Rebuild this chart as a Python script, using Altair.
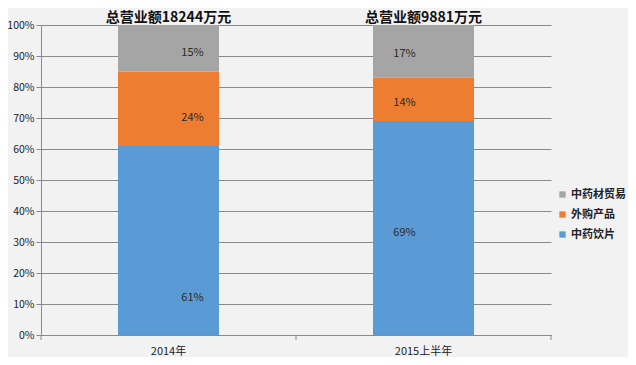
import altair as alt
import pandas as pd

years = ["2014年", "2015上半年"]
series = ["中药饮片", "外购产品", "中药材贸易"]
values_2014 = [61, 24, 15]
values_2015 = [69, 14, 17]
# where Excel placed each data label (in % units)
label_at_2014 = [12, 70, 91]
label_at_2015 = [33, 75, 90.5]
totals = ["总营业额18244万元", "总营业额9881万元"]
colors = ["#5b9bd5", "#ed7d31", "#a5a5a5"]

rows = []
for year, vals, labs in [(years[0], values_2014, label_at_2014), (years[1], values_2015, label_at_2015)]:
    for i, (s, v, lab) in enumerate(zip(series, vals, labs)):
        rows.append({"year": year, "series": s, "value": v, "ord": i, "lab": lab, "txt": f"{v}%"})
df = pd.DataFrame(rows)
tdf = pd.DataFrame({"year": years, "title": totals})

xscale = alt.Scale(domain=years, paddingInner=0, paddingOuter=0)
yscale = alt.Scale(domain=[0, 100], nice=False)

xaxis = alt.Axis(title=None, labelAngle=0, ticks=False, domain=True,
                 domainColor="#8a8a8a", labelFontSize=11, labelColor="#222",
                 labelPadding=10)
yaxis = alt.Axis(title=None, values=list(range(0, 101, 10)),
                 labelExpr="datum.value + '%'", grid=True, gridColor="#8a8a8a",
                 gridWidth=1, domain=True, domainColor="#8a8a8a", ticks=True,
                 tickSize=5, tickColor="#8a8a8a", labelFontSize=10.5,
                 labelColor="#222", labelPadding=2, labelOverlap=False)

X = alt.X("year:N", scale=xscale, sort=years, axis=xaxis)

bars = alt.Chart(df).mark_bar(size=101).encode(
    x=X,
    y=alt.Y("value:Q", stack="zero", scale=yscale, axis=yaxis),
    color=alt.Color("series:N",
                    scale=alt.Scale(domain=series[::-1], range=colors[::-1]),
                    legend=alt.Legend(title=None, orient="none", legendX=516, legendY=164,
                                      symbolType="square", symbolSize=40,
                                      symbolStrokeWidth=0, labelFontSize=11,
                                      labelFontWeight="bold", labelColor="#222",
                                      labelOffset=3, rowPadding=8)),
    order=alt.Order("ord:Q"),
)

lab1 = alt.Chart(df).transform_filter(alt.datum.year == years[0]).mark_text(
    fontSize=11, color="#2a2a2a", dx=24).encode(
    x=X,
    y=alt.Y("lab:Q", scale=yscale, axis=yaxis),
    text="txt:N",
)
lab2 = alt.Chart(df).transform_filter(alt.datum.year == years[1]).mark_text(
    fontSize=11, color="#2a2a2a", dx=-19).encode(
    x=X,
    y=alt.Y("lab:Q", scale=yscale, axis=yaxis),
    text="txt:N",
)

titles = alt.Chart(tdf).mark_text(fontSize=14, fontWeight="bold", color="#111",
                                  baseline="middle").encode(
    x=X,
    y=alt.value(-7),
    text="title:N",
)

one = pd.DataFrame({"a": [0]})
ticks = [
    alt.Chart(one).mark_rule(color="#8a8a8a").encode(
        x=alt.value(px), y=alt.value(310), y2=alt.value(315))
    for px in (0, 255, 510)
]

chart = alt.layer(bars, lab1, lab2, titles, *ticks).properties(
    width=510, height=310,
    autosize=alt.AutoSizeParams(type="none"),
    padding={"left": 33, "top": 17, "right": 77, "bottom": 22},
    background="#f3f2f3",
).configure(font="Noto Sans CJK SC").configure_view(stroke=None)

chart.save("out.html", embed_options={"renderer": "svg", "actions": False})
